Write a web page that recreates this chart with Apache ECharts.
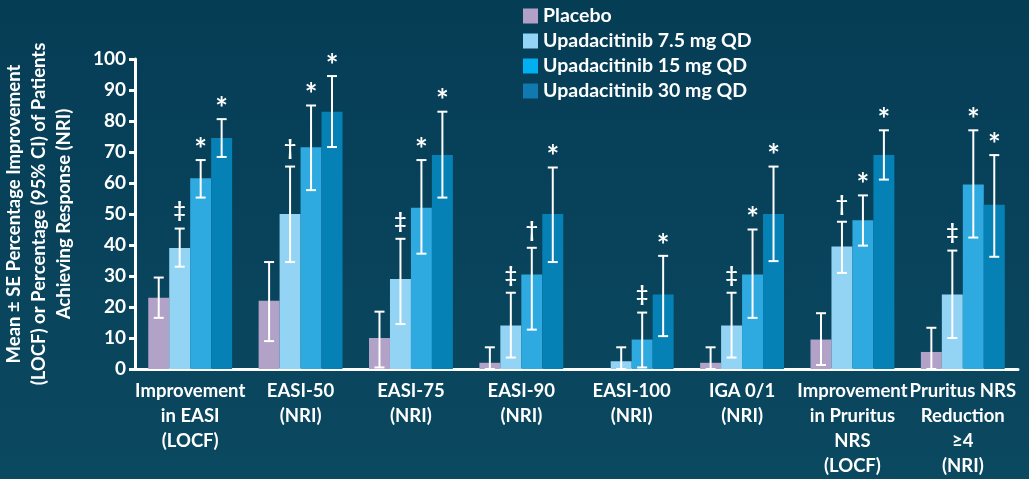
<!DOCTYPE html>
<html>
<head>
<meta charset="utf-8">
<script src="https://cdn.jsdelivr.net/npm/echarts@6/dist/echarts.min.js"></script>
<style>
  html, body { margin: 0; padding: 0; }
  #chart { width: 1029px; height: 479px; }
</style>
</head>
<body>
<div id="chart"></div>
<script>
// categories on the x axis
const categories = [
  "Improvement\nin EASI\n(LOCF)",
  "EASI-50\n(NRI)",
  "EASI-75\n(NRI)",
  "EASI-90\n(NRI)",
  "EASI-100\n(NRI)",
  "IGA 0/1\n(NRI)",
  "Improvement\nin Pruritus\nNRS\n(LOCF)",
  "Pruritus NRS\nReduction\n≥4\n(NRI)",
];
const seriesNames = ["Placebo", "Upadacitinib 7.5 mg QD", "Upadacitinib 15 mg QD", "Upadacitinib 30 mg QD"];
const yTicks = [0, 10, 20, 30, 40, 50, 60, 70, 80, 90, 100];

// bar values
const placebo = [23, 22, 10, 2, 0, 2, 9.5, 5.5];
const upa7 = [39, 50, 29, 14, 2.5, 14, 39.5, 24];
const upa15 = [61.5, 71.5, 52, 30.5, 9.5, 30.5, 48, 59.5];
const upa30 = [74.5, 83, 69, 50, 24, 50, 69, 53];

// error bar ends (SE or 95% CI)
const placeboLow = [16.5, 9, 0.5, 0, null, 0, 1.3, 0];
const placeboHigh = [29.5, 34.5, 18.5, 7, null, 7, 18, 13.3];
const upa7Low = [33, 34.5, 14.5, 3.7, 0, 3.7, 31, 10];
const upa7High = [45.3, 65.3, 42, 24.6, 7, 24.6, 47.5, 38.2];
const upa15Low = [55.3, 57.7, 37.2, 12.7, 0.5, 16.5, 39.8, 42.4];
const upa15High = [67.4, 85, 67.4, 39.1, 18.2, 45, 56, 77];
const upa30Low = [68.4, 71.6, 55.3, 34.5, 10.6, 34.8, 61.1, 36.2];
const upa30High = [80.6, 94.5, 83, 65, 36.5, 65.3, 77, 69];

// significance marks above the error bars
const placeboSym = ["", "", "", "", "", "", "", ""];
const upa7Sym = ["‡", "†", "‡", "‡", "", "‡", "†", "‡"];
const upa15Sym = ["*", "*", "*", "†", "‡", "*", "*", "*"];
const upa30Sym = ["*", "*", "*", "*", "*", "*", "*", "*"];

const barColors = ["#b3a2c8", "#93d4f5", "#2eaae0", "#0581b6"];
const legendColors = ["#b3a0c8", "#93d5f7", "#00b0f0", "#1079b0"];
const FONT = "Lato";
const catGap = 0.24;

const values = [placebo, upa7, upa15, upa30];
const lows = [placeboLow, upa7Low, upa15Low, upa30Low];
const highs = [placeboHigh, upa7High, upa15High, upa30High];
const syms = [placeboSym, upa7Sym, upa15Sym, upa30Sym];

function errorRender(k) {
  return function (params, api) {
    const cat = api.value(0);
    const lo = api.value(1);
    const hi = api.value(2);
    const sym = syms[k][cat];
    const band = api.size([1, 0])[0];
    const barW = (band * (1 - catGap)) / 4;
    const cx = api.coord([cat, 0])[0] + (k - 1.5) * barW;
    const yLo = api.coord([cat, lo])[1];
    const yHi = api.coord([cat, hi])[1];
    const ls = { stroke: "#fff", lineWidth: 2 };
    const children = [
      { type: "line", shape: { x1: cx, y1: yLo, x2: cx, y2: yHi }, style: ls },
      { type: "line", shape: { x1: cx - 5, y1: yLo, x2: cx + 5, y2: yLo }, style: ls },
      { type: "line", shape: { x1: cx - 5, y1: yHi, x2: cx + 5, y2: yHi }, style: ls },
    ];
    if (sym) {
      const isStar = sym === "*";
      children.push({
        type: "text",
        style: {
          text: sym,
          x: cx,
          y: isStar ? yHi - 10 : yHi - 18,
          textAlign: "center",
          textVerticalAlign: "middle",
          fill: "#fff",
          font: isStar ? "bold 30px " + FONT : "bold 21px " + FONT,
        },
      });
    }
    return { type: "group", children: children };
  };
}

const chart = echarts.init(document.getElementById("chart"));

const barSeries = seriesNames.map((name, k) => ({
  name: name,
  type: "bar",
  barGap: "0%",
  barCategoryGap: catGap * 100 + "%",
  itemStyle: { color: barColors[k] },
  data: values[k],
}));

const errSeries = seriesNames.map((name, k) => ({
  type: "custom",
  renderItem: errorRender(k),
  z: 5,
  silent: true,
  data: categories
    .map((c, i) => [i, lows[k][i], highs[k][i]])
    .filter((d) => d[1] != null),
}));

chart.setOption({
  backgroundColor: new echarts.graphic.LinearGradient(0, 0, 0, 1, [
    { offset: 0, color: "#053d55" },
    { offset: 1, color: "#0b4961" },
  ]),
  animation: false,
  textStyle: { fontFamily: FONT },
  legend: {
    orient: "vertical",
    left: 518,
    top: 1,
    itemWidth: 15,
    itemHeight: 15,
    itemGap: 5,
    icon: "rect",
    textStyle: { color: "#fff", fontSize: 19.5, fontWeight: "bold", fontFamily: FONT },
    data: seriesNames.map((n, k) => ({ name: n, itemStyle: { color: legendColors[k] } })),
  },
  grid: { left: 135, right: 11, top: 59, bottom: 110, outerBoundsMode: "none" },
  xAxis: {
    type: "category",
    data: categories,
    axisLine: { lineStyle: { color: "#fff", width: 3 } },
    axisTick: { show: false },
    axisLabel: {
      interval: 0,
      color: "#fff",
      fontSize: 18.5,
      fontWeight: "bold",
      lineHeight: 25,
      margin: 10,
    },
  },
  yAxis: {
    type: "value",
    min: 0,
    max: 100,
    interval: 10,
    name: "Mean ± SE Percentage Improvement\n(LOCF) or Percentage (95% CI) of Patients\nAchieving Response (NRI)",
    nameLocation: "middle",
    nameRotate: 90,
    nameGap: 58,
    nameTextStyle: { color: "#fff", fontSize: 18.5, fontWeight: "bold", lineHeight: 25, fontFamily: FONT },
    axisLine: { show: true, lineStyle: { color: "#fff", width: 3 } },
    axisTick: { show: true, length: 6, lineStyle: { color: "#fff", width: 3 } },
    splitLine: { show: false },
    axisLabel: {
      color: "#fff",
      fontSize: 19,
      fontWeight: "bold",
      margin: 9,
      formatter: (v) => (yTicks.includes(v) ? String(v) : ""),
    },
  },
  series: barSeries.concat(errSeries),
});
</script>
</body>
</html>
